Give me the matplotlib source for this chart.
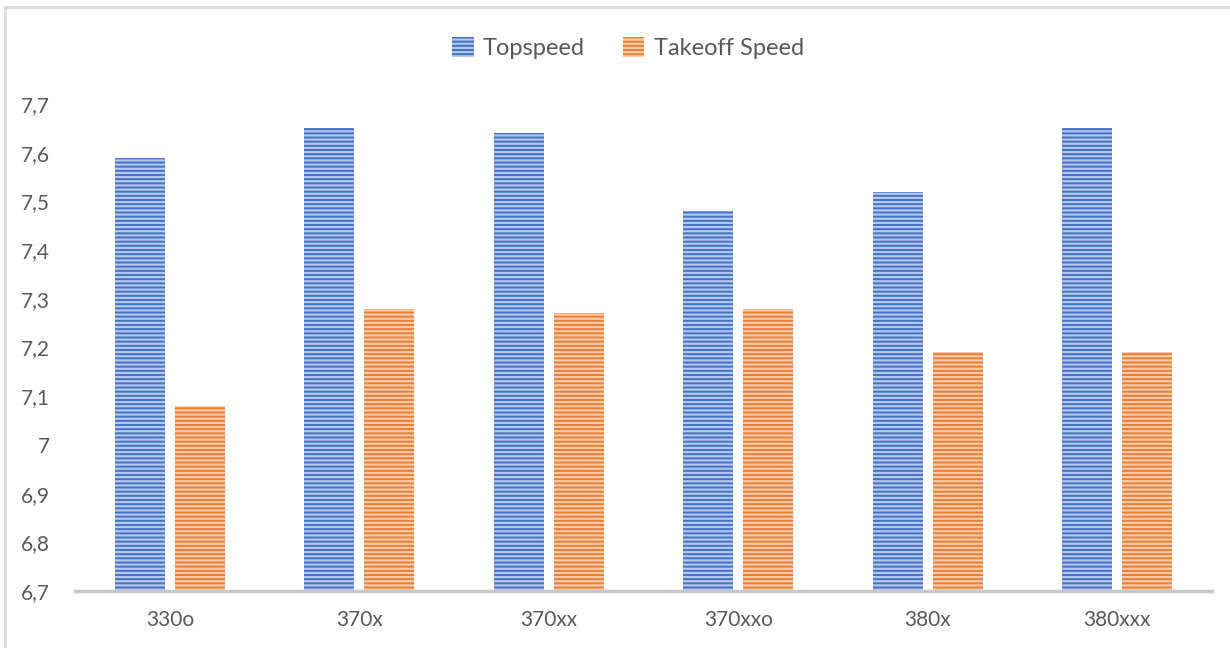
import matplotlib
matplotlib.use("Agg")
import matplotlib.pyplot as plt
import numpy as np
from matplotlib.lines import Line2D

categories = ["330o", "370x", "370xx", "370xxo", "380x", "380xxx"]
topspeed = [7.59, 7.65, 7.64, 7.48, 7.52, 7.65]
takeoff = [7.08, 7.28, 7.27, 7.28, 7.19, 7.19]
yticks = [6.7, 6.8, 6.9, 7.0, 7.1, 7.2, 7.3, 7.4, 7.5, 7.6, 7.7]
ytick_labels = ["6,7", "6,8", "6,9", "7", "7,1", "7,2", "7,3", "7,4", "7,5", "7,6", "7,7"]

plt.rcParams['font.family'] = ['Lato', 'DejaVu Sans']
plt.rcParams['hatch.linewidth'] = 1.6

fig = plt.figure(figsize=(12.3, 6.48), dpi=100)
ax = fig.add_axes([75/1230, 1-591/648, (1212-75)/1230, (591-104)/648])

x = np.arange(len(categories))
w = 0.264
gap = 0.053
b1 = ax.bar(x - (w+gap)/2, np.array(topspeed) - 6.7, bottom=6.7, width=w,
            color='#4472C4', edgecolor='#B4C7EC', linewidth=0, hatch='----', label='Topspeed')
b2 = ax.bar(x + (w+gap)/2, np.array(takeoff) - 6.7, bottom=6.7, width=w,
            color='#ED7D31', edgecolor='#F8CBAD', linewidth=0, hatch='----', label='Takeoff Speed')

ax.set_xlim(-0.5, len(categories) - 0.5)
ax.set_ylim(6.7, 7.7)
ax.set_yticks(yticks)
ax.set_yticklabels(ytick_labels)
ax.set_xticks(x)
ax.set_xticklabels(categories)
for s in ['top', 'right', 'left']:
    ax.spines[s].set_visible(False)
ax.spines['bottom'].set_color('#C8C8C8')
ax.spines['bottom'].set_linewidth(2.5)
ax.tick_params(axis='both', length=0, labelsize=15, colors='#595959')
ax.tick_params(axis='y', pad=18)
ax.tick_params(axis='x', pad=14)

leg = fig.legend(handles=[b1, b2], loc='center', bbox_to_anchor=(628/1230, 1-48/648),
                 ncol=2, frameon=False, fontsize=17, handlelength=0.9, handleheight=0.9,
                 columnspacing=1.6, handletextpad=0.4)
for t in leg.get_texts():
    t.set_color('#595959')

# figure border
fig.add_artist(Line2D([5/1230, 5/1230], [0, 1-7/648], color='#D9D9D9', linewidth=2, transform=fig.transFigure))
fig.add_artist(Line2D([5/1230, 1], [1-7/648, 1-7/648], color='#D9D9D9', linewidth=2, transform=fig.transFigure))

fig.savefig("out.png", dpi=100)
